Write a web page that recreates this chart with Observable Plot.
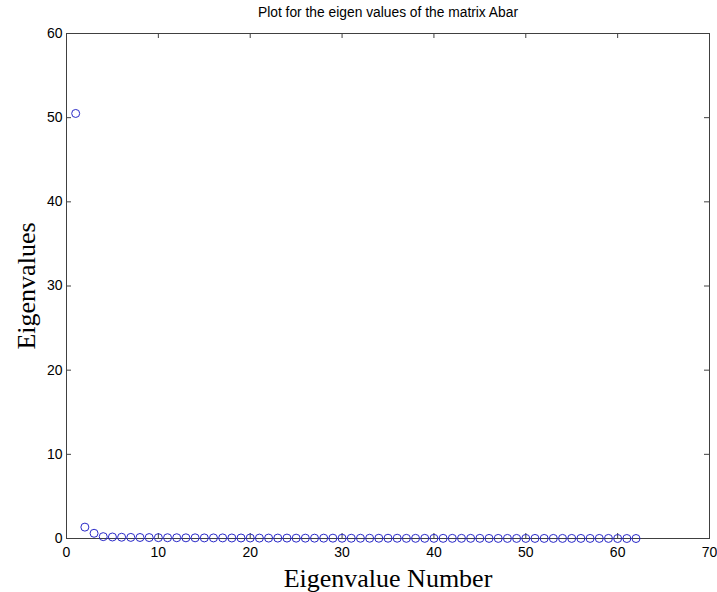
<!DOCTYPE html>
<html>
<head>
<meta charset="utf-8">
<script src="https://cdn.jsdelivr.net/npm/d3@7"></script>
<script src="https://cdn.jsdelivr.net/npm/@observablehq/plot@0.6"></script>
<style>
  html, body { margin: 0; padding: 0; background: #fff; }
  #chart svg { display: block; }
</style>
</head>
<body>
<div id="chart"></div>
<script>
const titleText = "Plot for the eigen values of the matrix Abar";
const xLabel = "Eigenvalue Number";
const yLabel = "Eigenvalues";
const xTicks = [0, 10, 20, 30, 40, 50, 60, 70];
const yTicks = [0, 10, 20, 30, 40, 50, 60];
const eigenvalues = [
  50.5, 1.35, 0.62, 0.22, 0.18, 0.15, 0.13, 0.12, 0.11, 0.10,
  0.09, 0.09, 0.08, 0.08, 0.07, 0.07, 0.07, 0.06, 0.06, 0.06,
  0.05, 0.05, 0.05, 0.05, 0.04, 0.04, 0.04, 0.04, 0.04, 0.03,
  0.03, 0.03, 0.03, 0.03, 0.03, 0.03, 0.02, 0.02, 0.02, 0.02,
  0.02, 0.02, 0.02, 0.02, 0.02, 0.01, 0.01, 0.01, 0.01, 0.01,
  0.01, 0.01, 0.01, 0.01, 0.01, 0.01, 0.01, 0.01, 0.01, 0.00,
  0.00, 0.00
];
const eigenIndex = eigenvalues.map((_, i) => i + 1);
const data = eigenvalues.map((v, i) => ({n: eigenIndex[i], v}));

const W = 717, H = 592;
const mL = 66, mR = 8, mT = 33, mB = 54;
const innerW = W - mL - mR, innerH = H - mT - mB;
const tickLen = 5;
const axisColor = "#404040";

const chart = Plot.plot({
  width: W,
  height: H,
  marginLeft: mL,
  marginRight: mR,
  marginTop: mT,
  marginBottom: mB,
  style: {fontFamily: "'Liberation Sans', Arial, sans-serif", fontSize: "14px", color: "#000", background: "#fff"},
  x: {domain: [0, 70], ticks: xTicks, label: null},
  y: {domain: [0, 60], ticks: yTicks, label: null},
  marks: [
    Plot.frame({stroke: axisColor, strokeWidth: 1}),
    Plot.tickX(xTicks, {x: d => d, stroke: axisColor, insetTop: innerH - tickLen}),
    Plot.tickX(xTicks, {x: d => d, stroke: axisColor, insetBottom: innerH - tickLen}),
    Plot.tickY(yTicks, {y: d => d, stroke: axisColor, insetRight: innerW - tickLen}),
    Plot.tickY(yTicks, {y: d => d, stroke: axisColor, insetLeft: innerW - tickLen}),
    Plot.axisX({ticks: xTicks, tickSize: 0, tickPadding: 9, label: null, fontSize: 14, fill: "#000"}),
    Plot.axisY({ticks: yTicks, tickSize: 0, tickPadding: 4, label: null, fontSize: 14, fill: "#000"}),
    Plot.dot(data, {x: "n", y: "v", r: 4, stroke: "#2a2ac8", strokeWidth: 1, fill: "none"}),
    Plot.text([titleText], {frameAnchor: "top", dy: -21, fontSize: 13.8, fill: "#000", lineAnchor: "middle"}),
    Plot.text([xLabel], {frameAnchor: "bottom", dy: 40, fontSize: 26, fill: "#000", lineAnchor: "middle",
      fontFamily: "'Liberation Serif', 'Times New Roman', serif"}),
    Plot.text([yLabel], {frameAnchor: "left", dx: -40, rotate: -90, textAnchor: "middle", lineAnchor: "middle",
      fontSize: 26, fill: "#000",
      fontFamily: "'Liberation Serif', 'Times New Roman', serif"})
  ]
});
document.getElementById("chart").appendChild(chart);
</script>
</body>
</html>
